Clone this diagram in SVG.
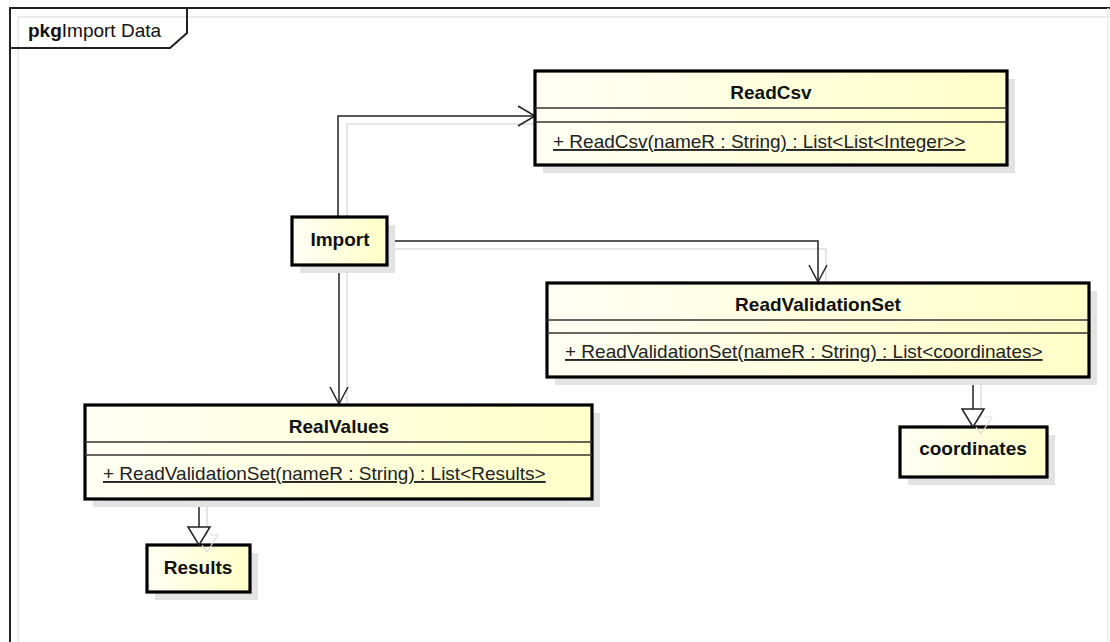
<svg xmlns="http://www.w3.org/2000/svg" width="1110" height="642" viewBox="0 0 1110 642">
<style>
  .box { stroke: #000; stroke-width: 3.2; fill: url(#g); }
  .shadow { fill: #e3e3e3; stroke: none; }
  .sep { stroke: #333; stroke-width: 1.5; }
  .title { font-family: "Liberation Sans", Arial, sans-serif; font-size: 19px; font-weight: bold; fill: #111; text-anchor: middle; }
  .op { font-family: "Liberation Sans", Arial, sans-serif; font-size: 19px; fill: #222; text-decoration: underline; }
  .line { fill: none; stroke: #222; stroke-width: 1.5; }
  .lineSh { fill: none; stroke: #dddddd; stroke-width: 1.5; }
  .tri { fill: #fff; stroke: #222; stroke-width: 1.5; }
  .triSh { fill: none; stroke: #dddddd; stroke-width: 1.2; }
</style>
<defs>
  <linearGradient id="g" x1="0" y1="0" x2="1" y2="0">
    <stop offset="0" stop-color="#fffff4"/>
    <stop offset="1" stop-color="#ffffc8"/>
  </linearGradient>
</defs>
<rect x="0" y="0" width="1110" height="642" fill="#fff"/>

<g id="frame">
  <path d="M18,642 V17 H1110" fill="none" stroke="#ececec" stroke-width="2"/>
  <path d="M10,642 V8 H1110" fill="none" stroke="#222" stroke-width="2"/>
  <line x1="1108" y1="8" x2="1108" y2="642" stroke="#eeeeee" stroke-width="1.5"/>
  <path d="M10,48 H170 L187,33 V8" fill="none" stroke="#222" stroke-width="2"/>
  <text x="28" y="37" font-family="'Liberation Sans', Arial, sans-serif" font-size="19" fill="#111"><tspan font-weight="bold">pkg</tspan>Import Data</text>
</g>

<g id="connectors">
  <path class="lineSh" d="M347,217 V124 H535"/>
  <path class="lineSh" d="M395,249 H826 V283"/>
  <path class="lineSh" d="M347,273 V405"/>
  <path class="lineSh" d="M207,507 V535"/>
  <path class="lineSh" d="M981,385 V417"/>
  <path class="line" d="M338,217 V116 H535"/>
  <path class="line" d="M518,106 L535,116 L518,126"/>
  <path class="line" d="M387,241 H818 V282"/>
  <path class="line" d="M809,265 L818,282 L827,265"/>
  <path class="line" d="M339,265 V404"/>
  <path class="line" d="M330,387 L339,404 L348,387"/>
  <path class="line" d="M199,499 V527"/>
  <path class="line" d="M973,377 V409"/>
</g>

<g id="ReadCsv">
  <rect class="shadow" x="543" y="79" width="472" height="94"/>
  <rect class="box" x="535" y="71" width="472" height="94"/>
  <line class="sep" x1="535" y1="108" x2="1007" y2="108"/>
  <line class="sep" x1="535" y1="122" x2="1007" y2="122"/>
  <text class="title" x="771" y="99">ReadCsv</text>
  <text class="op" x="553" y="148">+ ReadCsv(nameR : String) : List&lt;List&lt;Integer&gt;&gt;</text>
</g>

<g id="Import">
  <rect class="shadow" x="300" y="225" width="95" height="48"/>
  <rect class="box" x="292" y="217" width="95" height="48"/>
  <text class="title" x="340" y="246">Import</text>
</g>

<g id="ReadValidationSet">
  <rect class="shadow" x="555" y="291" width="542" height="94"/>
  <rect class="box" x="547" y="283" width="542" height="94"/>
  <line class="sep" x1="547" y1="320" x2="1089" y2="320"/>
  <line class="sep" x1="547" y1="333" x2="1089" y2="333"/>
  <text class="title" x="818" y="311">ReadValidationSet</text>
  <text class="op" x="565" y="358">+ ReadValidationSet(nameR : String) : List&lt;coordinates&gt;</text>
</g>

<g id="RealValues">
  <rect class="shadow" x="93" y="413" width="507" height="94"/>
  <rect class="box" x="85" y="405" width="507" height="94"/>
  <line class="sep" x1="85" y1="442" x2="592" y2="442"/>
  <line class="sep" x1="85" y1="455" x2="592" y2="455"/>
  <text class="title" x="339" y="433">RealValues</text>
  <text class="op" x="103" y="480">+ ReadValidationSet(nameR : String) : List&lt;Results&gt;</text>
</g>

<g id="Results">
  <rect class="shadow" x="155" y="553" width="103" height="47"/>
  <rect class="box" x="147" y="545" width="103" height="47"/>
  <text class="title" x="198" y="574">Results</text>
</g>

<g id="coordinates">
  <rect class="shadow" x="908" y="435" width="147" height="50"/>
  <rect class="box" x="900" y="427" width="147" height="50"/>
  <text class="title" x="973" y="455">coordinates</text>
</g>

<g id="generalizations">
  <path class="triSh" d="M984,417 L992,417 L981,434 L976,427"/>
  <path class="tri" d="M962,409 L984,409 L973,427 Z"/>
  <path class="triSh" d="M210,535 L218,535 L207,552 L202,545"/>
  <path class="tri" d="M188,527 L210,527 L199,545 Z"/>
</g>
</svg>
